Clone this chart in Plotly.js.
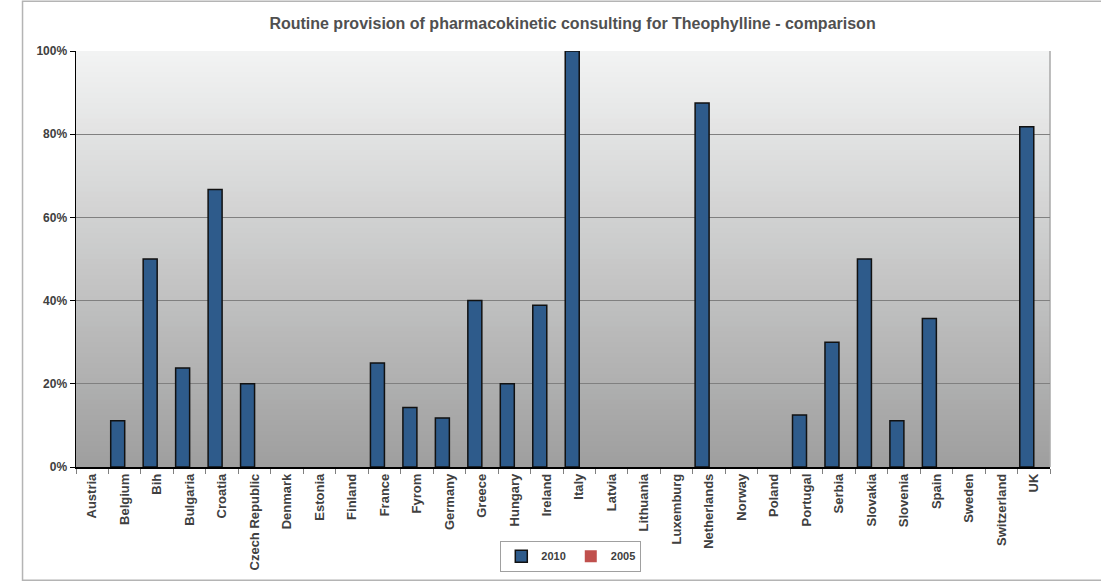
<!DOCTYPE html>
<html>
<head>
<meta charset="utf-8">
<script src="https://cdn.plot.ly/plotly-3.0.1.min.js"></script>
<style>html,body{margin:0;padding:0;background:#fff;}#chart{width:1101px;height:584px;}</style>
</head>
<body>
<div id="chart"></div>
<script>
const countries = ["Austria","Belgium","Bih","Bulgaria","Croatia","Czech Republic","Denmark","Estonia","Finland","France","Fyrom","Germany","Greece","Hungary","Ireland","Italy","Latvia","Lithuania","Luxemburg","Netherlands","Norway","Poland","Portugal","Serbia","Slovakia","Slovenia","Spain","Sweden","Switzerland","UK"];
const values2010 = [null,11.1,50,23.8,66.7,20,null,null,null,25,14.3,11.8,40,20,38.9,100,null,null,null,87.5,null,null,12.5,30,50,11.1,35.7,null,null,81.8];
const values2005 = [null,null,null,null,null,null,null,null,null,null,null,null,null,null,null,null,null,null,null,null,null,null,null,null,null,null,null,null,null,null];
const seriesNames = ["2010","2005"];
const yTicks = [0,20,40,60,80,100];
</script>
<script>
(function(){
const FONT = "Liberation Sans, Arial, sans-serif";
const shapes = [];
const N = 80;
const cTop = [243,244,244], cBot = [158,158,158];
for (let i = 0; i < N; i++) {
  const t = (i + 0.5) / N;
  const c = cTop.map((v, k) => Math.round(v + (cBot[k] - v) * t));
  shapes.push({type:'rect', xref:'x domain', yref:'y domain', x0:0, x1:1,
    y0:Math.max(0, 1 - (i + 1) / N - 0.004), y1:1 - i / N, fillcolor:`rgb(${c[0]},${c[1]},${c[2]})`,
    line:{width:0}, layer:'below'});
}
// right border of plot area
shapes.push({type:'line', xref:'x domain', yref:'y domain', x0:1, x1:1, y0:0, y1:1,
  line:{color:'#a8a8a8', width:1.5}, layer:'below'});
// outer frame
shapes.push({type:'rect', xref:'paper', yref:'paper', x0:-0.0549, x1:1.06, y0:-0.272, y1:1.1196,
  line:{color:'#b4b4b4', width:1.5}, fillcolor:'rgba(0,0,0,0)', layer:'below'});

const traces = [
  {type:'bar', name:seriesNames[0], x:countries, y:values2010,
   marker:{color:'#2e5b8b', line:{color:'#111', width:1.5}}},
  {type:'bar', name:seriesNames[1], x:countries, y:values2005,
   marker:{color:'#c0504d', line:{color:'#c0504d', width:0}}}
];

const layout = {
  width:1101, height:584,
  margin:{l:76, r:51, t:51, b:115},
  paper_bgcolor:'#ffffff', plot_bgcolor:'rgba(0,0,0,0)',
  font:{family:FONT, size:12, color:'#404040'},
  title:{text:'<b>Routine provision of pharmacokinetic consulting for Theophylline - comparison</b>',
    font:{family:FONT, size:16, color:'#505050'}, x:0.52, xref:'container', xanchor:'center', y:0.96, yanchor:'middle'},
  barmode:'group', bargap:0.138, bargroupgap:0,
  xaxis:{type:'category', tickangle:-90, tickson:'boundaries', ticks:'outside', ticklen:5, tickcolor:'#808080',
    showline:true, linecolor:'#000', linewidth:1.5, showgrid:false,
    tickfont:{family:FONT, size:13, color:'#404040', weight:'bold'}},
  yaxis:{range:[0,100], tickvals:yTicks, ticktext:yTicks.map(v=>v+'%'), ticks:'outside', ticklen:5, tickcolor:'#000',
    showline:true, linecolor:'#000', linewidth:1.5, showgrid:true, gridcolor:'#808080', gridwidth:1,
    zeroline:false, tickfont:{family:FONT, size:12, color:'#404040', weight:'bold'}},
  showlegend:true,
  legend:{orientation:'h', x:0.508, xanchor:'center', y:-0.177, yanchor:'top',
    bordercolor:'#a0a0a0', borderwidth:1, bgcolor:'#fff',
    font:{family:FONT, size:11, color:'#404040', weight:'bold'}},
  shapes:shapes
};
Plotly.newPlot('chart', traces, layout, {displayModeBar:false, staticPlot:true});
})();
</script>
</body>
</html>
